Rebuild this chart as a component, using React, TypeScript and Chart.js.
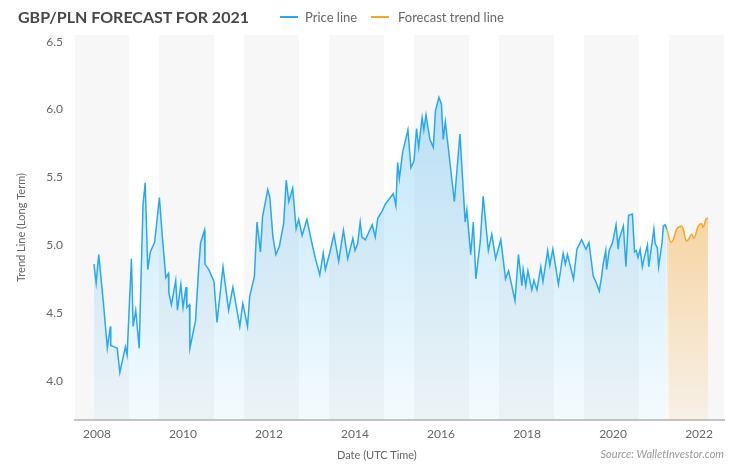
import React, { useEffect, useRef } from 'react';
import { Chart, registerables } from 'chart.js';

Chart.register(...registerables);

const priceYears = [
  2007.93, 2007.98, 2008.04, 2008.15, 2008.19, 2008.24, 2008.31, 2008.32, 2008.47, 2008.53,
  2008.66, 2008.70, 2008.80, 2008.84, 2008.90, 2008.98, 2009.07, 2009.12, 2009.18, 2009.24,
  2009.34, 2009.45, 2009.52, 2009.60, 2009.66, 2009.67, 2009.73, 2009.83, 2009.87, 2009.95,
  2010.00, 2010.07, 2010.09, 2010.15, 2010.16, 2010.29, 2010.37, 2010.41, 2010.50, 2010.51,
  2010.60, 2010.72, 2010.79, 2010.93, 2011.06, 2011.16, 2011.32, 2011.39, 2011.50, 2011.55,
  2011.66, 2011.72, 2011.80, 2011.85, 2011.97, 2012.02, 2012.09, 2012.16, 2012.24, 2012.34,
  2012.40, 2012.46, 2012.55, 2012.63, 2012.69, 2012.77, 2012.88, 2013.00, 2013.08, 2013.18,
  2013.26, 2013.31, 2013.41, 2013.51, 2013.62, 2013.73, 2013.83, 2013.95, 2014.00, 2014.06,
  2014.12, 2014.16, 2014.24, 2014.40, 2014.47, 2014.53, 2014.63, 2014.70, 2014.89, 2014.95,
  2014.99, 2015.03, 2015.11, 2015.23, 2015.30, 2015.37, 2015.43, 2015.48, 2015.56, 2015.60,
  2015.65, 2015.74, 2015.82, 2015.87, 2015.95, 2016.01, 2016.05, 2016.10, 2016.31, 2016.44,
  2016.56, 2016.60, 2016.69, 2016.75, 2016.81, 2016.91, 2016.98, 2017.10, 2017.18, 2017.27,
  2017.39, 2017.50, 2017.57, 2017.72, 2017.80, 2017.88, 2017.91, 2017.97, 2018.02, 2018.11,
  2018.16, 2018.23, 2018.32, 2018.37, 2018.48, 2018.53, 2018.60, 2018.73, 2018.84, 2018.89,
  2018.94, 2019.08, 2019.16, 2019.27, 2019.37, 2019.44, 2019.54, 2019.60, 2019.68, 2019.73,
  2019.77, 2019.83, 2019.85, 2019.91, 2019.99, 2020.07, 2020.12, 2020.14, 2020.24, 2020.30,
  2020.36, 2020.45, 2020.50, 2020.54, 2020.58, 2020.63, 2020.68, 2020.72, 2020.80, 2020.83,
  2020.95, 2020.98, 2021.03, 2021.06, 2021.14, 2021.17, 2021.21, 2021.25,
];

const priceValues = [
  4.86, 4.72, 4.93, 4.57, 4.42, 4.24, 4.40, 4.26, 4.24, 4.06,
  4.25, 4.19, 4.90, 4.40, 4.52, 4.24, 5.30, 5.46, 4.82, 4.95,
  5.02, 5.35, 5.06, 4.76, 4.79, 4.65, 4.56, 4.74, 4.52, 4.71,
  4.54, 4.69, 4.54, 4.56, 4.24, 4.44, 4.86, 5.02, 5.11, 4.86,
  4.82, 4.73, 4.43, 4.84, 4.52, 4.69, 4.40, 4.57, 4.40, 4.62,
  4.77, 5.17, 4.95, 5.21, 5.41, 5.35, 5.06, 4.93, 4.99, 5.16,
  5.48, 5.32, 5.42, 5.12, 5.19, 5.07, 5.19, 5.01, 4.90, 4.78,
  4.94, 4.82, 4.94, 5.08, 4.88, 5.11, 4.90, 5.05, 4.96, 5.01,
  5.17, 5.06, 5.04, 5.15, 5.06, 5.20, 5.25, 5.30, 5.38, 5.29,
  5.61, 5.49, 5.69, 5.85, 5.57, 5.62, 5.86, 5.72, 5.94, 5.85,
  5.96, 5.78, 5.72, 5.99, 6.09, 6.04, 5.78, 5.91, 5.32, 5.82,
  5.17, 5.26, 4.93, 5.17, 4.75, 5.02, 5.36, 4.96, 5.08, 4.90,
  5.04, 4.75, 4.81, 4.59, 4.93, 4.70, 4.82, 4.70, 4.81, 4.67,
  4.74, 4.67, 4.84, 4.73, 4.96, 4.85, 4.97, 4.71, 4.94, 4.86,
  4.93, 4.75, 4.97, 5.04, 4.97, 5.02, 4.77, 4.73, 4.66, 4.76,
  4.86, 4.96, 4.82, 4.96, 5.02, 5.15, 4.97, 5.04, 5.14, 4.84,
  5.22, 5.23, 4.95, 4.96, 4.91, 4.97, 4.84, 4.90, 5.00, 4.84,
  5.12, 5.01, 4.98, 4.84, 5.02, 5.14, 5.15, 5.12,
];

const forecastYears = [
  2021.25, 2021.35, 2021.40, 2021.48, 2021.60, 2021.64, 2021.70, 2021.75,
  2021.83, 2021.88, 2021.98, 2022.06, 2022.09, 2022.16, 2022.21,
];
const forecastValues = [
  5.12, 5.02, 5.04, 5.12, 5.14, 5.11, 5.03, 5.04,
  5.08, 5.05, 5.14, 5.16, 5.13, 5.19, 5.20,
];

const xTickYears = [2008, 2010, 2012, 2014, 2016, 2018, 2020, 2022];
const yTickValues = [4.0, 4.5, 5.0, 5.5, 6.0, 6.5];

// shaded plot bands (start year, end year)
const bandStarts = [2007.488, 2009.442, 2011.419, 2013.395, 2015.372, 2017.349, 2019.326, 2021.302];
const bandEnds = [2008.744, 2010.721, 2012.698, 2014.674, 2016.651, 2018.628, 2020.605, 2022.58];

const X_MIN = 2007.488;
const X_MAX = 2022.58;
const Y_MIN = 3.71;
const Y_MAX = 6.55;

const BLUE = 'rgb(39,169,241)';
const ORANGE = 'rgb(245,166,45)';
const FONT = 'Lato, "Open Sans", sans-serif';

export default function App() {
  const canvasRef = useRef<HTMLCanvasElement | null>(null);

  useEffect(() => {
    const canvas = canvasRef.current;
    if (!canvas) return;

    const bandsPlugin = {
      id: 'plotBands',
      beforeDraw(chart: any) {
        const { ctx, chartArea, scales } = chart;
        const x = scales.x;
        ctx.save();
        ctx.fillStyle = '#f7f7f7';
        for (let i = 0; i < bandStarts.length; i++) {
          const x0 = Math.max(x.getPixelForValue(bandStarts[i]), chartArea.left);
          const x1 = Math.min(x.getPixelForValue(bandEnds[i]), chartArea.right);
          ctx.fillRect(x0, chartArea.top, x1 - x0, chartArea.bottom - chartArea.top);
        }
        ctx.restore();
      },
    };

    const blueFill = (context: any) => {
      const { chart } = context;
      const { ctx, chartArea } = chart;
      if (!chartArea) return 'rgba(39,169,241,0.15)';
      const g = ctx.createLinearGradient(0, chartArea.top, 0, chartArea.bottom);
      g.addColorStop(0, 'rgba(39,169,241,0.34)');
      g.addColorStop(1, 'rgba(39,169,241,0.05)');
      return g;
    };

    const orangeFill = (context: any) => {
      const { chart } = context;
      const { ctx, chartArea, scales } = chart;
      if (!chartArea || !scales.y) return 'rgba(245,166,45,0.25)';
      const top = scales.y.getPixelForValue(5.2);
      const g = ctx.createLinearGradient(0, top, 0, chartArea.bottom);
      g.addColorStop(0, 'rgba(245,166,45,0.42)');
      g.addColorStop(1, 'rgba(245,166,45,0.08)');
      return g;
    };

    const chart = new Chart(canvas, {
      type: 'line',
      data: {
        datasets: [
          {
            label: 'Price line',
            data: priceYears.map((x, i) => ({ x, y: priceValues[i] })),
            borderColor: BLUE,
            borderWidth: 1.5,
            backgroundColor: blueFill,
            fill: 'start',
            pointRadius: 0,
            tension: 0,
          },
          {
            label: 'Forecast trend line',
            data: forecastYears.map((x, i) => ({ x, y: forecastValues[i] })),
            borderColor: ORANGE,
            borderWidth: 1.5,
            backgroundColor: orangeFill,
            fill: 'start',
            pointRadius: 0,
            cubicInterpolationMode: 'monotone',
          },
        ],
      },
      options: {
        animation: false,
        responsive: false,
        devicePixelRatio: 1,
        layout: { padding: { top: 35, right: 26, bottom: 0, left: 0 } },
        plugins: {
          legend: { display: false },
          title: { display: false },
          tooltip: { enabled: false },
        },
        scales: {
          x: {
            type: 'linear',
            min: X_MIN,
            max: X_MAX,
            afterBuildTicks: (scale: any) => {
              scale.ticks = xTickYears.map((v) => ({ value: v }));
            },
            afterFit: (scale: any) => {
              scale.height = 49;
            },
            ticks: {
              callback: (v: any) => String(v),
              color: '#666',
              font: { family: FONT, size: 12 },
              padding: 7,
              maxRotation: 0,
              autoSkip: false,
            },
            grid: { display: true, color: 'rgba(0,0,0,0)', drawTicks: false },
            border: { display: true, color: '#c4c4c4', width: 2 },
          },
          y: {
            type: 'linear',
            min: Y_MIN,
            max: Y_MAX,
            afterBuildTicks: (scale: any) => {
              scale.ticks = yTickValues.map((v) => ({ value: v }));
            },
            afterFit: (scale: any) => {
              scale.width = 75;
            },
            ticks: {
              callback: (v: any) => Number(v).toFixed(1),
              color: '#666',
              font: { family: FONT, size: 12 },
              padding: 12,
            },
            grid: { display: false, drawTicks: false },
            border: { display: false },
            title: {
              display: true,
              text: 'Trend Line (Long Term)',
              color: '#666',
              font: { family: FONT, size: 11 },
              padding: { top: 15, bottom: 0 },
            },
          },
        },
      },
      plugins: [bandsPlugin],
    } as any);

    return () => {
      chart.destroy();
    };
  }, []);

  const textBase: React.CSSProperties = {
    position: 'absolute',
    fontFamily: FONT,
    whiteSpace: 'nowrap',
    lineHeight: '16px',
  };

  return (
    <div style={{ position: 'absolute', left: 0, top: 0, width: 750, height: 469, background: '#fff' }}>
      <canvas ref={canvasRef} width={750} height={469} style={{ display: 'block', width: 750, height: 469 }} />
      <div style={{ ...textBase, left: 18, top: 9, fontSize: 16, fontWeight: 700, color: '#474747' }}>
        GBP/PLN FORECAST FOR 2021
      </div>
      <div style={{ position: 'absolute', left: 280, top: 16, width: 18, height: 2, background: BLUE }} />
      <div style={{ ...textBase, left: 305, top: 9, fontSize: 13, color: '#666' }}>Price line</div>
      <div style={{ position: 'absolute', left: 371, top: 16, width: 18, height: 2, background: ORANGE }} />
      <div style={{ ...textBase, left: 398, top: 9, fontSize: 13, color: '#666' }}>Forecast trend line</div>
      <div style={{ ...textBase, left: 337, top: 447, fontSize: 11, color: '#666' }}>Date (UTC Time)</div>
      <div style={{ ...textBase, right: 26, top: 446, fontSize: 11, fontStyle: 'italic', color: '#999' }}>
        Source: WalletInvestor.com
      </div>
    </div>
  );
}
